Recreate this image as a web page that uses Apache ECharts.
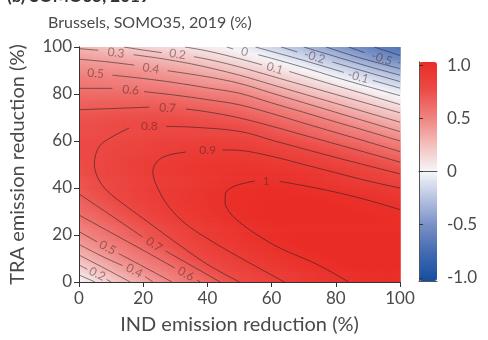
<!DOCTYPE html>
<html><head><meta charset="utf-8">
<script src="https://cdn.jsdelivr.net/npm/echarts@6/dist/echarts.min.js"></script>
<style>html,body{margin:0;padding:0;background:#fff;overflow:hidden}#c{width:488px;height:340px}</style>
</head><body><div id="c"></div>
<script>
// ---------- data ----------
const titleText = '(b) SOMO35, 2019';
const subtitleText = 'Brussels, SOMO35, 2019 (%)';
const xName = 'IND emission reduction (%)';
const yName = 'TRA emission reduction (%)';
const axisTicks = [0, 20, 40, 60, 80, 100];
// grid nodes (IND %, TRA %)
const xNodes = [0,5,10,15,20,25,30,35,40,45,50,55,60,65,70,75,80,85,90,95,100];
const yNodes = [0,5,10,15,20,25,30,35,40,45,50,55,60,65,70,75,80,85,90,95,100];
// field values, one row per TRA value (bottom to top), columns along IND
const fieldRows = [
 [0.01,0.10,0.20,0.285,0.365,0.445,0.515,0.58,0.645,0.72,0.80,0.835,0.87,0.905,0.93,0.955,0.98,1.005,1.015,1.025,1.03],
 [0.145,0.235,0.315,0.40,0.47,0.53,0.587,0.66,0.744,0.813,0.848,0.882,0.912,0.937,0.962,0.988,1.01,1.025,1.035,1.04,1.04],
 [0.265,0.347,0.425,0.497,0.552,0.608,0.683,0.764,0.82,0.855,0.89,0.92,0.946,0.973,1.0,1.015,1.03,1.04,1.045,1.045,1.04],
 [0.378,0.451,0.517,0.569,0.631,0.704,0.765,0.818,0.862,0.903,0.932,0.96,0.989,1.01,1.025,1.035,1.045,1.05,1.05,1.045,1.04],
 [0.473,0.533,0.586,0.648,0.711,0.763,0.817,0.872,0.913,0.94,0.967,0.994,1.015,1.03,1.04,1.045,1.05,1.05,1.045,1.04,1.035],
 [0.55,0.604,0.66,0.715,0.77,0.823,0.872,0.912,0.94,0.967,0.995,1.015,1.03,1.04,1.045,1.045,1.045,1.04,1.035,1.03,1.02],
 [0.615,0.667,0.72,0.777,0.826,0.868,0.907,0.935,0.963,0.99,1.01,1.025,1.035,1.04,1.04,1.04,1.035,1.03,1.02,1.01,1.005],
 [0.672,0.725,0.778,0.822,0.859,0.896,0.922,0.947,0.972,0.997,1.01,1.02,1.025,1.03,1.03,1.025,1.015,1.005,0.99,0.975,0.955],
 [0.715,0.768,0.812,0.843,0.875,0.904,0.924,0.945,0.965,0.986,1.005,1.015,1.02,1.015,1.005,0.99,0.97,0.955,0.94,0.92,0.90],
 [0.755,0.796,0.826,0.854,0.883,0.905,0.925,0.942,0.957,0.97,0.978,0.984,0.985,0.978,0.965,0.948,0.925,0.90,0.875,0.847,0.817],
 [0.775,0.80,0.83,0.86,0.885,0.905,0.925,0.94,0.95,0.955,0.955,0.945,0.93,0.915,0.90,0.875,0.85,0.82,0.795,0.757,0.72],
 [0.78,0.797,0.815,0.835,0.855,0.87,0.885,0.90,0.905,0.91,0.905,0.897,0.875,0.855,0.83,0.80,0.765,0.73,0.695,0.655,0.61],
 [0.78,0.79,0.80,0.82,0.835,0.85,0.86,0.865,0.87,0.865,0.85,0.83,0.805,0.78,0.74,0.705,0.67,0.63,0.59,0.545,0.50],
 [0.765,0.775,0.79,0.795,0.80,0.81,0.81,0.81,0.805,0.797,0.79,0.76,0.72,0.685,0.65,0.61,0.565,0.52,0.475,0.43,0.38],
 [0.735,0.745,0.755,0.76,0.765,0.765,0.76,0.75,0.735,0.72,0.70,0.665,0.63,0.59,0.545,0.505,0.455,0.405,0.355,0.30,0.25],
 [0.68,0.685,0.69,0.69,0.69,0.69,0.68,0.665,0.645,0.625,0.605,0.565,0.525,0.48,0.43,0.38,0.33,0.275,0.225,0.17,0.11],
 [0.623,0.622,0.62,0.617,0.61,0.60,0.585,0.565,0.545,0.525,0.505,0.46,0.41,0.355,0.30,0.245,0.195,0.14,0.085,0.03,-0.03],
 [0.557,0.55,0.54,0.53,0.515,0.497,0.475,0.455,0.43,0.41,0.38,0.325,0.27,0.22,0.165,0.11,0.05,-0.007,-0.065,-0.12,-0.18],
 [0.483,0.47,0.46,0.45,0.43,0.405,0.38,0.35,0.315,0.275,0.232,0.19,0.14,0.08,0.02,-0.04,-0.10,-0.16,-0.225,-0.29,-0.35],
 [0.40,0.38,0.36,0.335,0.31,0.28,0.25,0.22,0.18,0.14,0.10,0.05,-0.01,-0.07,-0.13,-0.20,-0.27,-0.35,-0.43,-0.50,-0.56],
 [0.29,0.26,0.23,0.20,0.17,0.14,0.12,0.08,0.05,0.01,-0.04,-0.10,-0.16,-0.23,-0.30,-0.37,-0.44,-0.51,-0.58,-0.64,-0.70]
];
// contour lines: each level is a list of segments (broken where the level label sits)
const contourLines = [
 {level: 0.1, segments: [[[0,3],[5,0]]]},
 {level: 0.2, segments: [[[0,7.3],[2.6,5.4]], [[8.6,1.1],[10,0]]]},
 {level: 0.3, segments: [[[0,11.5],[8,5.8],[16,0]]]},
 {level: 0.4, segments: [[[0,16],[8,10.4],[13.6,7]], [[20.6,2.3],[23,0]]]},
 {level: 0.5, segments: [[[0,21.5],[5.6,17.1]], [[12.4,12.1],[20,6.6],[29,0]]]},
 {level: 0.6, segments: [[[0,28.5],[10,21],[20,13.5],[29.8,6]], [[36.8,0.8],[37.8,0]]]},
 {level: 0.7, segments: [[[0,37.5],[10,28.3],[19.8,19.2]], [[27,13.2],[35,7],[44,0]]]},
 {level: 0.8, segments: [[[50,0],[40,7.5],[30,17],[22,25],[15,32],[9,38.5],[6,44],[4.8,50],[6.2,57.5],[10,61.5],[15.6,65.5]], [[27.1,66.2],[35,65.9],[50,64.1],[61,60],[80,53],[100,46]]]},
 {level: 0.9, segments: [[[64,0],[50,10.5],[40,18.5],[33,25],[28,32],[24.5,40],[23,47],[24.5,51.5],[28,54],[33.3,55.3]], [[44.8,56.2],[50,56],[60,53.5],[70,50],[80,46.5],[90,43],[100,40]]]},
 {level: 1.0, segments: [[[84,0],[74,7.6],[62.8,14.3],[55,20.5],[50,25.5],[47,29.5],[45.5,34],[45.6,37.5],[47.3,40],[50,41.5],[54.7,43]], [[62.5,42.8],[70,41],[80,38.2],[90,34.8],[100,30.8]]]},
 {level: 0.7, segments: [[[0,73.3],[10,73.8],[21.9,74.4]], [[33.3,73.6],[40,72.4],[50,69.8],[60,66.3],[70,62.5],[80,58.7],[90,54.9],[100,51]]]},
 {level: 0.6, segments: [[[0,82.4],[10.4,82.4]], [[20.3,81],[30,79.5],[40,77.6],[50,75.4],[60,71.7],[70,67.6],[80,63.6],[90,59.6],[100,55.5]]]},
 {level: 0.5, segments: [[[10.4,88],[20,86.6],[30,84.8],[40,82.6],[50,80.3],[60,76.2],[70,72.2],[80,68.1],[90,64.1],[100,60]]]},
 {level: 0.4, segments: [[[0,94.8],[8,93.8],[17.2,92.3]], [[27.6,89.9],[40,87.3],[50,84.5],[60,80.4],[70,76.3],[80,72.2],[90,68.1],[100,64]]]},
 {level: 0.3, segments: [[[0,99.3],[6,98.6]], [[17,96.7],[25,95.2],[35,92.8],[42,90.7],[50,88],[60,84],[70,80],[80,76],[90,72],[100,68]]]},
 {level: 0.2, segments: [[[14,100],[20,98.7],[25.8,97.6]], [[35.8,95.9],[42,94.2],[50,91.5],[60,87.6],[70,83.7],[80,79.8],[90,75.9],[100,72]]]},
 {level: 0.1, segments: [[[33,100],[40,98.3],[50,95],[57,92.4]], [[65.5,89.6],[70,87.7],[80,83.6],[90,79.6],[100,75.5]]]},
 {level: 0.0, segments: [[[46,100],[48,99.2]], [[55.8,96.7],[60,95.2],[70,91.3],[80,87.1],[87,84.3],[100,79.3]]]},
 {level: -0.1, segments: [[[55,100],[60,98.1],[70,94.3],[82.5,89.2]], [[91.5,85.8],[100,82.5]]]},
 {level: -0.2, segments: [[[63,100],[68,97.9]], [[79,93.6],[87,90.4],[100,85.3]]]},
 {level: -0.3, segments: [[[70,100],[80,95.9],[90,91.8],[100,88]]]},
 {level: -0.4, segments: [[[77,100],[87,95.6],[100,90.8]]]},
 {level: -0.5, segments: [[[84,100],[89,97.6]], [[99.5,93.4],[100,93.2]]]},
 {level: -0.6, segments: [[[92,100],[100,96.4]]]}
];
// contour labels: text and where it sits (IND %, TRA %)
const contourLabelText = ['0.3','0.2','0.4','0.5','0.6','0.7','0.8','0.9','0','0.1','-0.2','-0.1','-0.5','1','0.2','0.5','0.4','0.7','0.6'];
const contourLabelAt = [[11.5,97.5],[30.7,96.9],[22.4,90.9],[5.2,88.7],[16.1,81.7],[27.6,74],[21.9,66.2],[40.1,56.1],[51.6,97.9],[61,90.9],[73.4,95.8],[87,87.3],[94.3,95.1],[58.3,43],[5.7,3.4],[8.9,14.6],[17.2,4.8],[23.4,16],[33.3,3.4]];
const colorbarTicks = [-1, -0.5, 0, 0.5, 1];
const colorbarTickLabels = ['-1.0', '-0.5', '0', '0.5', '1.0'];
const colorRange = [-1.03, 1.03];

// ---------- styles ----------
const labelAngles = [-6,-9,-9,-4,-5,-3,0,0,-14,-16,-17,-15,-19,0,-27,-29,-28,-34,-29];
const palette = ['#144ea0','#4169b2','#768ec5','#b6c2e1','#f6f6f9','#f3bebc','#f0807d','#ec4b46','#ea2c26'];
const FONT = 'Lato';
const TXT = '#4a4a4a';
const plot = {left: 79, top: 47, width: 321, height: 237};
const bar = {left: 419, top: 62, width: 18, height: 219};
const STRIPS = 6;

function colorOf(v) {
  let t = (v - colorRange[0]) / (colorRange[1] - colorRange[0]);
  t = Math.max(0, Math.min(1, t));
  return echarts.color.lerp(t, palette);
}

const nx = xNodes.length, ny = yNodes.length;
const fieldData = [];
yNodes.forEach((y, j) => xNodes.forEach((x, i) => fieldData.push([x, y, fieldRows[j][i]])));

const series = [{
  type: 'custom', xAxisIndex: 0, yAxisIndex: 0, z: 1, silent: true,
  data: fieldData,
  renderItem(params, api) {
    const idx = params.dataIndex;
    const i = idx % nx, j = Math.floor(idx / nx);
    if (i >= nx - 1 || j >= ny - 1) return null;
    const v00 = fieldRows[j][i], v10 = fieldRows[j][i + 1];
    const v01 = fieldRows[j + 1][i], v11 = fieldRows[j + 1][i + 1];
    const pA = api.coord([xNodes[i], yNodes[j + 1]]);
    const pB = api.coord([xNodes[i + 1], yNodes[j]]);
    const w = pB[0] - pA[0], h = pB[1] - pA[1];
    const children = [];
    for (let k = 0; k < STRIPS; k++) {
      const t = (k + 0.5) / STRIPS;
      const vl = v01 + (v00 - v01) * t, vr = v11 + (v10 - v11) * t;
      children.push({type: 'rect',
        shape: {x: pA[0], y: pA[1] + h * k / STRIPS, width: w + 0.7, height: h / STRIPS + 0.7},
        style: {fill: new echarts.graphic.LinearGradient(0, 0, 1, 0,
          [{offset: 0, color: colorOf(vl)}, {offset: 1, color: colorOf(vr)}])}});
    }
    return {type: 'group', children: children};
  }
}];
contourLines.forEach(c => c.segments.forEach(seg => series.push({
  type: 'line', xAxisIndex: 0, yAxisIndex: 0, z: 3, silent: true,
  data: seg, symbol: 'none', smooth: 0.35,
  lineStyle: {color: 'rgba(35,30,30,0.62)', width: 0.9}
})));
series.push({
  type: 'scatter', xAxisIndex: 0, yAxisIndex: 0, z: 4, silent: true, symbolSize: 0,
  data: contourLabelAt.map((p, k) => ({value: p, name: contourLabelText[k],
    label: {rotate: labelAngles[k]}})),
  label: {show: true, position: 'inside', formatter: p => p.name,
    fontFamily: FONT, fontSize: 12, color: 'rgba(70,35,35,0.62)'}
});

const frame = {lineStyle: {color: '#333', width: 1}};
const axisCommon = {
  type: 'value', min: 0, max: 100, z: 10,
  splitLine: {show: false},
  axisLine: Object.assign({show: true}, frame)
};
const barFrame = {type: 'value', gridIndex: 1, min: 0, max: 1, z: 10,
  splitLine: {show: false}, axisTick: {show: false}, axisLabel: {show: false},
  axisLine: {show: true, lineStyle: {color: '#555', width: 1}}};
const option = {
  animation: false,
  backgroundColor: '#fff',
  textStyle: {fontFamily: FONT},
  title: [
    {text: titleText, left: 2, top: -17, textStyle: {fontFamily: FONT, fontSize: 17, fontWeight: 'bold', color: '#333'}},
    {text: subtitleText, left: 43, top: 10, textStyle: {fontFamily: FONT, fontSize: 16, fontWeight: 'normal', color: TXT}}
  ],
  grid: [
    {left: plot.left, top: plot.top, width: plot.width, height: plot.height, show: false},
    {left: bar.left, top: bar.top, width: bar.width, height: bar.height, show: false}
  ],
  xAxis: [
    Object.assign({}, axisCommon, {gridIndex: 0, position: 'bottom', interval: 20,
      name: xName, nameLocation: 'middle', nameGap: 33,
      nameTextStyle: {fontFamily: FONT, fontSize: 20, color: TXT},
      axisTick: {show: true, length: 5, lineStyle: {color: '#333'}, customValues: axisTicks},
      axisLabel: {show: true, margin: 8, fontFamily: FONT, fontSize: 17, color: TXT, customValues: axisTicks}}),
    Object.assign({}, axisCommon, {gridIndex: 0, position: 'top', axisTick: {show: false}, axisLabel: {show: false}}),
    Object.assign({}, barFrame, {position: 'bottom'}),
    Object.assign({}, barFrame, {position: 'top'})
  ],
  yAxis: [
    Object.assign({}, axisCommon, {gridIndex: 0, position: 'left', interval: 20,
      name: yName, nameLocation: 'middle', nameGap: 51, nameRotate: 90,
      nameTextStyle: {fontFamily: FONT, fontSize: 20, color: TXT},
      axisTick: {show: true, length: 5, lineStyle: {color: '#333'}, customValues: axisTicks},
      axisLabel: {show: true, margin: 7, fontFamily: FONT, fontSize: 17, color: TXT, customValues: axisTicks}}),
    Object.assign({}, axisCommon, {gridIndex: 0, position: 'right', axisTick: {show: false}, axisLabel: {show: false}}),
    {type: 'value', gridIndex: 1, min: colorRange[0], max: colorRange[1], position: 'right', z: 10,
      splitLine: {show: false},
      axisLine: {show: true, lineStyle: {color: '#555'}},
      axisTick: {show: true, length: 4, lineStyle: {color: '#333'}, customValues: colorbarTicks},
      axisLabel: {show: true, margin: 10, fontFamily: FONT, fontSize: 17, color: TXT, customValues: colorbarTicks,
        formatter: v => colorbarTickLabels[colorbarTicks.indexOf(Math.round(v * 100) / 100)]}},
    Object.assign({}, barFrame, {position: 'left'})
  ],
  visualMap: {
    type: 'continuous', seriesIndex: 0, dimension: 2,
    min: colorRange[0], max: colorRange[1],
    calculable: false, show: true, padding: 0,
    left: bar.left, top: bar.top, itemWidth: bar.width, itemHeight: bar.height,
    text: null, hoverLink: false,
    inRange: {color: palette}
  },
  series: series
};
const chart = echarts.init(document.getElementById('c'), null, {renderer: 'canvas'});
chart.setOption(option);
</script>
</body></html>
